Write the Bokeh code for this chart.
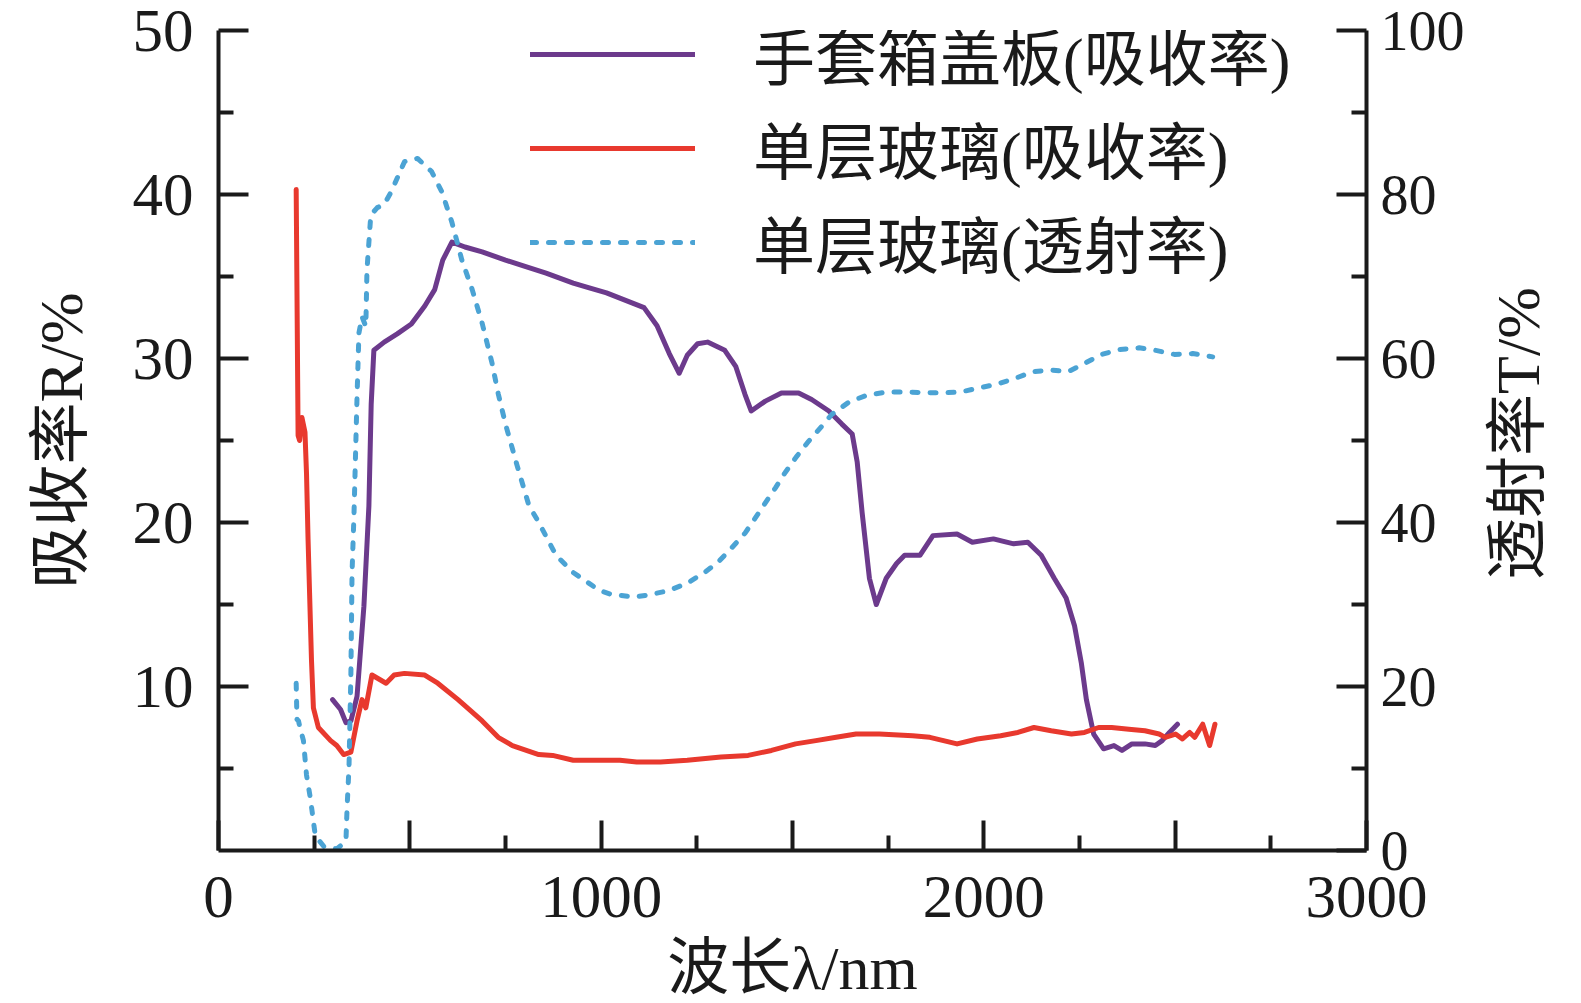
import math
from bokeh.plotting import figure
from bokeh.models import Range1d, LinearAxis, FixedTicker, Legend, LegendItem
from bokeh.embed import file_html
from bokeh.resources import INLINE

# ---- data ----
glove_x = [298, 319, 333, 346, 362, 380, 393, 399, 406, 433, 467, 504, 539, 565, 586, 610, 644,
           689, 750, 803, 856, 927, 969, 1014, 1112, 1146, 1178, 1204, 1225, 1252, 1278, 1323,
           1352, 1376, 1392, 1429, 1471, 1516, 1550, 1595, 1629, 1656, 1669, 1682, 1701, 1719,
           1745, 1772, 1793, 1833, 1867, 1930, 1970, 2025, 2078, 2115, 2150, 2184, 2215, 2237,
           2255, 2268, 2287, 2313, 2340, 2361, 2387, 2421, 2448, 2466, 2485, 2506]
glove_r = [9.2, 8.6, 7.8, 7.9, 9.4, 14.9, 21.0, 27.2, 30.5, 31.0, 31.5, 32.1, 33.2, 34.2, 36.0,
           37.1, 36.8, 36.5, 36.0, 35.6, 35.2, 34.6, 34.3, 34.0, 33.1, 32.0, 30.3, 29.1, 30.2,
           30.9, 31.0, 30.5, 29.5, 27.8, 26.8, 27.4, 27.9, 27.9, 27.5, 26.8, 26.0, 25.4, 23.7,
           20.6, 16.6, 15.0, 16.6, 17.5, 18.0, 18.0, 19.2, 19.3, 18.8, 19.0, 18.7, 18.8, 18.0,
           16.6, 15.4, 13.7, 11.4, 9.2, 7.1, 6.2, 6.4, 6.1, 6.5, 6.5, 6.4, 6.7, 7.2, 7.7]

glass_x = [203, 208, 212, 218, 226, 230, 234, 238, 243, 248, 261, 293, 309, 327, 346, 362, 375,
           385, 401, 438, 459, 486, 539, 573, 626, 689, 731, 768, 837, 873, 927, 961, 1014, 1049,
           1093, 1155, 1225, 1313, 1384, 1445, 1508, 1561, 1614, 1666, 1727, 1814, 1859, 1930,
           1983, 2044, 2089, 2131, 2176, 2229, 2263, 2300, 2334, 2379, 2421, 2458, 2474, 2501,
           2519, 2538, 2551, 2572, 2590, 2604]
glass_r = [40.3, 25.3, 25.0, 26.4, 25.5, 23.0, 19.0, 15.7, 11.6, 8.7, 7.5, 6.7, 6.4, 5.85, 6.0,
           7.9, 9.2, 8.7, 10.7, 10.2, 10.7, 10.8, 10.7, 10.2, 9.2, 7.9, 6.9, 6.4, 5.85, 5.8, 5.5,
           5.5, 5.5, 5.5, 5.4, 5.4, 5.5, 5.7, 5.8, 6.1, 6.5, 6.7, 6.9, 7.1, 7.1, 7.0, 6.9, 6.5,
           6.8, 7.0, 7.2, 7.5, 7.3, 7.1, 7.2, 7.5, 7.5, 7.4, 7.3, 7.1, 6.9, 7.1, 6.8, 7.2, 6.9,
           7.7, 6.4, 7.7]

trans_x = [203, 205, 209, 214, 222, 230, 240, 253, 275, 309, 333, 336, 341, 346, 349, 354, 362,
           367, 375, 385, 388, 398, 415, 433, 451, 486, 520, 557, 584, 610, 636, 663, 689, 715,
           731, 750, 780, 811, 837, 882, 927, 996, 1022, 1085, 1128, 1177, 1225, 1270, 1304,
           1339, 1376, 1402, 1429, 1455, 1481, 1510, 1542, 1574, 1603, 1648, 1693, 1745, 1798,
           1885, 1938, 1986, 2036, 2083, 2128, 2176, 2221, 2263, 2308, 2355, 2406, 2448, 2498,
           2546, 2598]
trans_t = [20.4, 16.0, 15.8, 14.8, 13.4, 9.2, 6.4, 1.8, 0.5, 0.2, 1.1, 5.2, 10.1, 21.6, 33.9,
           40.9, 55.3, 63.1, 65.1, 63.9, 70.8, 77.5, 78.4, 78.8, 80.3, 84.0, 84.4, 82.8, 80.3,
           76.6, 72.0, 68.4, 64.3, 59.4, 55.7, 52.0, 47.0, 42.1, 40.0, 36.0, 33.9, 31.7, 31.3,
           30.9, 31.2, 31.7, 32.6, 33.9, 35.1, 36.8, 38.7, 40.5, 42.4, 44.2, 46.1, 48.0, 49.9,
           51.6, 53.2, 54.7, 55.5, 55.9, 55.9, 55.8, 55.9, 56.4, 56.9, 57.6, 58.4, 58.6, 58.4,
           59.4, 60.5, 61.1, 61.3, 61.0, 60.5, 60.6, 60.2]

series_labels = ["手套箱盖板(吸收率)", "单层玻璃(吸收率)", "单层玻璃(透射率)"]

x_major = [0, 500, 1000, 1500, 2000, 2500, 3000]
x_minor = [250, 750, 1250, 1750, 2250, 2750]
x_hidden = [500, 1500, 2500]
yl_major = [10, 20, 30, 40, 50]
yl_minor = [5, 15, 25, 35, 45]
yr_major = [0, 20, 40, 60, 80, 100]
yr_minor = [10, 30, 50, 70, 90]

x_title = "波长λ/nm"
yl_title = "吸收率R/%"
yr_title = "透射率T/%"

PURPLE = "#6c3a8c"
RED = "#e8392e"
BLUE = "#4ba3d4"
INK = "#1a1a1a"
NUM_FONT = "'Liberation Serif'"
MIX_FONT = "'Liberation Serif', 'Noto Sans CJK SC'"

p = figure(frame_width=1148, frame_height=820,
           x_range=Range1d(0, 3000), y_range=Range1d(0, 50),
           output_backend="svg", toolbar_location=None,
           min_border_left=218, min_border_right=0,
           min_border_top=30, min_border_bottom=0)
p.outline_line_color = None
p.grid.visible = False
p.background_fill_color = "white"
p.border_fill_color = "white"

p.extra_y_ranges = {"T": Range1d(0, 100)}
right_axis = LinearAxis(y_range_name="T")
p.add_layout(right_axis, "right")


def style_axis(ax, size):
    ax.axis_line_width = 4
    ax.axis_line_color = INK
    ax.major_tick_line_width = 4
    ax.minor_tick_line_width = 4
    ax.major_tick_line_color = INK
    ax.minor_tick_line_color = INK
    ax.major_tick_in = 30
    ax.major_tick_out = 0
    ax.minor_tick_in = 15
    ax.minor_tick_out = 0
    ax.major_label_text_font = NUM_FONT
    ax.major_label_text_font_size = size
    ax.major_label_text_color = INK
    ax.axis_label_text_font = MIX_FONT
    ax.axis_label_text_font_style = "normal"
    ax.axis_label_text_font_size = "62px"
    ax.axis_label_text_color = INK


xa = p.xaxis[0]
style_axis(xa, "61px")
xa.ticker = FixedTicker(ticks=x_major, minor_ticks=x_minor)
xa.major_label_overrides = {v: "" for v in x_hidden}
xa.major_label_standoff = 26
xa.axis_label = x_title
xa.axis_label_standoff = 14

yl = p.yaxis[0]
style_axis(yl, "61px")
yl.ticker = FixedTicker(ticks=yl_major, minor_ticks=yl_minor)
yl.major_label_standoff = 25
yl.axis_label = yl_title
yl.axis_label_standoff = 35

style_axis(right_axis, "56px")
right_axis.ticker = FixedTicker(ticks=yr_major, minor_ticks=yr_minor)
right_axis.major_label_standoff = 14

# right-hand title: carried by an outer, line-less axis so that it reads bottom-to-top
TITLE_AT = 33  # where (on the T scale) the rotated title starts
title_axis = LinearAxis(y_range_name="T")
title_axis.ticker = FixedTicker(ticks=[TITLE_AT], minor_ticks=[])
title_axis.major_label_overrides = {TITLE_AT: yr_title}
title_axis.major_label_orientation = math.pi / 2
title_axis.axis_line_color = None
title_axis.major_tick_line_color = None
title_axis.minor_tick_line_color = None
title_axis.major_tick_in = 0
title_axis.major_tick_out = 0
title_axis.minor_tick_in = 0
title_axis.minor_tick_out = 0
title_axis.major_label_text_font = MIX_FONT
title_axis.major_label_text_font_size = "62px"
title_axis.major_label_text_color = INK
title_axis.major_label_standoff = 51
p.add_layout(title_axis, "right")

r1 = p.line(glove_x, glove_r, line_color=PURPLE, line_width=5, line_join="round", line_cap="round")
r2 = p.line(glass_x, glass_r, line_color=RED, line_width=5, line_join="round", line_cap="round")
r3 = p.line(trans_x, trans_t, y_range_name="T", line_color=BLUE, line_width=5,
            line_dash="6 12", line_cap="round", line_join="round")

legend = Legend(items=[LegendItem(label=series_labels[0], renderers=[r1]),
                       LegendItem(label=series_labels[1], renderers=[r2]),
                       LegendItem(label=series_labels[2], renderers=[r3])],
                location=(312, 563), orientation="vertical",
                glyph_width=165, glyph_height=40, label_height=40,
                label_standoff=58, spacing=4, padding=0, margin=0,
                border_line_color=None, background_fill_alpha=0,
                label_text_font=MIX_FONT, label_text_font_size="62px",
                label_text_color=INK)
p.add_layout(legend)

open("out.html", "w").write(file_html(p, INLINE))
